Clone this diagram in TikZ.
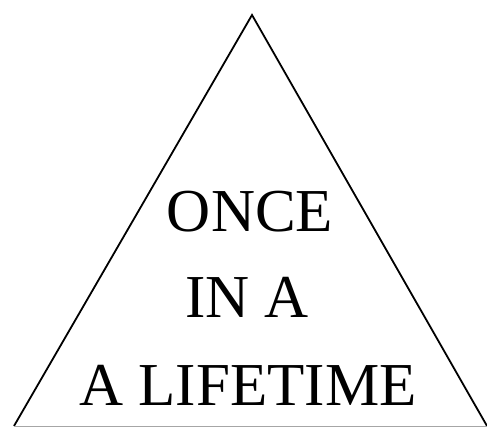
\documentclass[tikz,border=0pt]{standalone}
\usepackage{fontspec}
\setmainfont{Liberation Serif}
\tikzset{
    word/.style={anchor=base, inner sep=0pt, font=\fontsize{61}{61}\selectfont}
}
\begin{document}
\begin{tikzpicture}[x=1pt,y=-1pt]
    \useasboundingbox (0,0) rectangle (487,427);
    % Triangle
    \coordinate (apex) at (252,15);
    \coordinate (bl) at (14,426);
    \coordinate (br) at (487,426);
    \draw[line width=1.8pt, line join=miter] (bl) -- (apex) -- (br);
    \draw[line width=0.6pt, black!35] (bl) -- (br);

    % Text
    \node[word] (once) at (250,232) {ONCE};
    \node[word] (ina) at (247,318) {IN A};
    \node[word] (life) at (248,405) {A LIFETIME};
\end{tikzpicture}
\end{document}
